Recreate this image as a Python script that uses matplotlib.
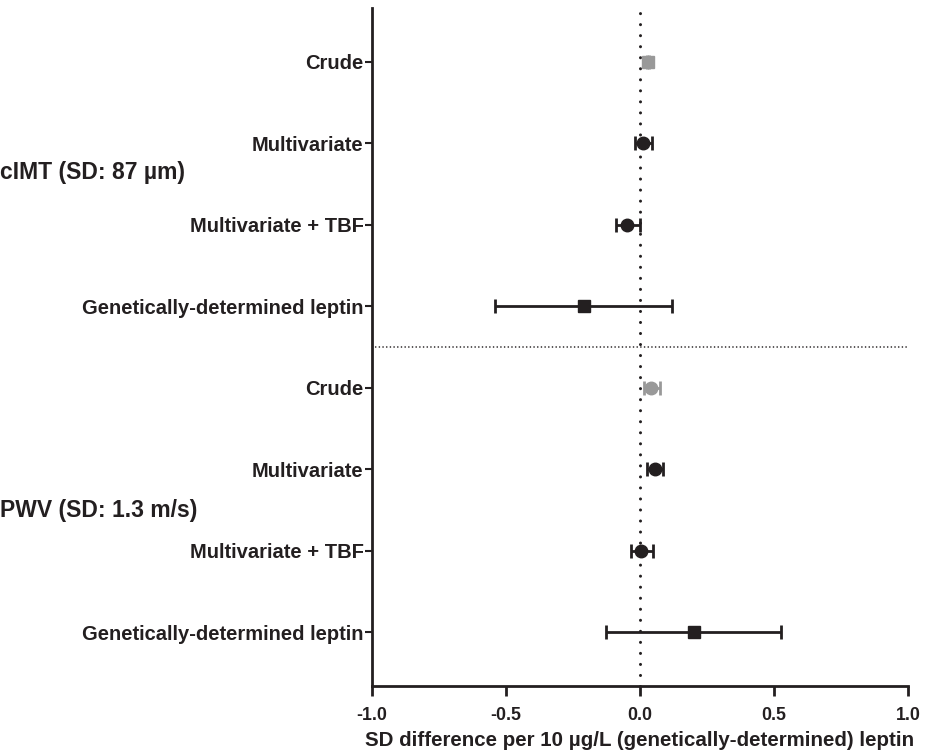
import matplotlib
matplotlib.use("Agg")
import matplotlib.pyplot as plt
import numpy as np

plt.rcParams['font.family'] = ['Liberation Sans', 'DejaVu Sans']
plt.rcParams['font.weight'] = 'bold'

# rows, top to bottom
row_labels = ["Crude", "Multivariate", "Multivariate + TBF", "Genetically-determined leptin",
              "Crude", "Multivariate", "Multivariate + TBF", "Genetically-determined leptin"]
estimates = [0.03, 0.012, -0.05, -0.21, 0.04, 0.056, 0.004, 0.20]
lower = [0.025, -0.02, -0.09, -0.54, 0.015, 0.027, -0.034, -0.127]
upper = [0.035, 0.045, 0.0, 0.12, 0.075, 0.085, 0.047, 0.526]
markers = ["s", "o", "o", "s", "o", "o", "o", "s"]
colors = ["#999999", "#231f20", "#231f20", "#231f20", "#999999", "#231f20", "#231f20", "#231f20"]
group_labels = ["cIMT (SD: 87 \u00b5m)", "PWV (SD: 1.3 m/s)"]

fig = plt.figure(figsize=(9.44, 7.54), dpi=100)
ax = fig.add_axes([372/944, 1 - 686/754, 536/944, 678/754])

n = len(row_labels)
ypos = np.arange(n)
for i in range(n):
    ax.errorbar(estimates[i], ypos[i],
                xerr=[[estimates[i] - lower[i]], [upper[i] - estimates[i]]],
                fmt=markers[i], color=colors[i], ms=9,
                elinewidth=2, capsize=5, capthick=2, zorder=3)

ax.axvline(0, color="#231f20", lw=2.2, linestyle=(0, (0.01, 3.6)),
           dash_capstyle="round", zorder=2)
ax.axhline(3.5, color="#231f20", lw=1.2, linestyle=(0, (0.01, 2.2)),
           dash_capstyle="round", zorder=2)

ax.set_xlim(-1.0, 1.0)
ax.set_ylim(n - 1 + 0.66, -0.66)
ax.set_xticks([-1.0, -0.5, 0.0, 0.5, 1.0])
ax.set_xticklabels(["-1.0", "-0.5", "0.0", "0.5", "1.0"])
ax.set_yticks(ypos)
ax.set_yticklabels(row_labels)

for s in ["top", "right"]:
    ax.spines[s].set_visible(False)
for s in ["left", "bottom"]:
    ax.spines[s].set_linewidth(2)
    ax.spines[s].set_color("#231f20")
ax.tick_params(axis="x", length=7, width=2, labelsize=12.8, pad=8, colors="#231f20")
ax.tick_params(axis="y", length=5, width=1.5, labelsize=14.5, pad=1, colors="#231f20")
ax.set_xlabel("SD difference per 10 \u00b5g/L (genetically-determined) leptin",
              fontsize=14.8, fontweight="bold", color="#231f20", labelpad=5)

fig.text(0.0, 1 - 172/754, group_labels[0], fontsize=16.5, fontweight="bold",
         va="center", ha="left", color="#231f20")
fig.text(0.0, 1 - 510/754, group_labels[1], fontsize=16.5, fontweight="bold",
         va="center", ha="left", color="#231f20")

fig.savefig("out.png", dpi=100)
